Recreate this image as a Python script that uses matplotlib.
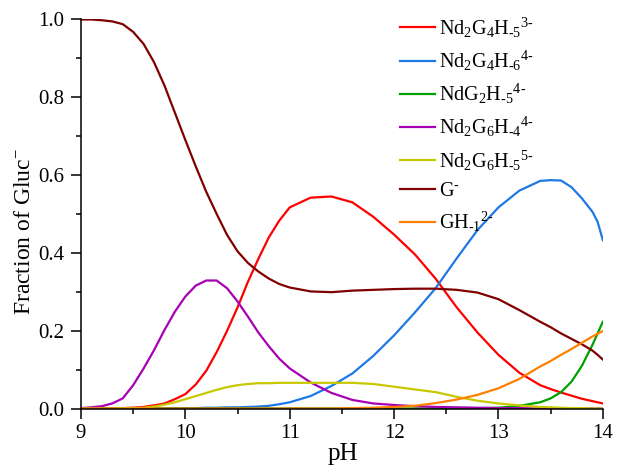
import matplotlib
matplotlib.use("Agg")
import matplotlib.pyplot as plt
from matplotlib.ticker import MultipleLocator, FormatStrFormatter

plt.rcParams["font.family"] = ["Liberation Serif", "DejaVu Serif"]
plt.rcParams["mathtext.fontset"] = "custom"
plt.rcParams["mathtext.rm"] = "Liberation Serif"
plt.rcParams["mathtext.it"] = "Liberation Serif:italic"

# pH grid (finer where the curves bend sharply)
ph = [9.0, 9.1, 9.2, 9.3, 9.4, 9.5, 9.6, 9.7, 9.8, 9.9, 10.0, 10.1, 10.2, 10.3, 10.4, 10.5, 10.6, 10.7,
      10.8, 10.9, 11.0, 11.2, 11.4, 11.6, 11.8, 12.0, 12.2, 12.4, 12.6, 12.8, 13.0, 13.2, 13.4,
      13.5, 13.6, 13.7, 13.8, 13.9, 13.95, 14.0]

nd2g4h5 = [0, 0, 0, 0.001, 0.001, 0.002, 0.004, 0.008, 0.013, 0.024, 0.037, 0.062, 0.097, 0.145, 0.2, 0.26,
           0.326, 0.385, 0.44, 0.483, 0.517, 0.542, 0.545, 0.53, 0.493, 0.447, 0.396, 0.333, 0.26, 0.195,
           0.138, 0.092, 0.06, 0.05, 0.041, 0.033, 0.025, 0.019, 0.016, 0.013]
nd2g4h6 = [0, 0, 0, 0, 0, 0, 0, 0, 0.001, 0.001, 0.001, 0.001, 0.002, 0.002, 0.003, 0.003, 0.004, 0.005,
           0.007, 0.011, 0.016, 0.032, 0.058, 0.09, 0.135, 0.188, 0.247, 0.31, 0.386, 0.459,
           0.517, 0.56, 0.585, 0.587, 0.586, 0.569, 0.54, 0.506, 0.48, 0.433]
ndg2h5 = [0, 0, 0, 0, 0, 0, 0, 0, 0, 0, 0, 0, 0, 0, 0, 0, 0, 0,
          0, 0, 0, 0, 0, 0, 0, 0, 0, 0, 0, 0.001,
          0.002, 0.007, 0.016, 0.026, 0.042, 0.069, 0.11, 0.163, 0.193, 0.223]
nd2g6h4 = [0.001, 0.003, 0.006, 0.013, 0.026, 0.06, 0.103, 0.15, 0.202, 0.249, 0.288, 0.316, 0.329, 0.329,
           0.309, 0.275, 0.236, 0.195, 0.16, 0.128, 0.103, 0.067, 0.04, 0.022, 0.013, 0.009, 0.006,
           0.004, 0.003, 0.002, 0.001, 0.001, 0, 0, 0, 0, 0, 0, 0, 0]
nd2g6h5 = [0, 0, 0, 0, 0.001, 0.001, 0.002, 0.005, 0.01, 0.016, 0.024, 0.032, 0.04, 0.048, 0.055, 0.06,
           0.063, 0.065, 0.065, 0.066, 0.066, 0.066, 0.066, 0.066, 0.063, 0.056, 0.049, 0.042, 0.03, 0.02,
           0.013, 0.008, 0.004, 0.003, 0.002, 0.001, 0.001, 0, 0, 0]
g_minus = [1.0, 1.0, 0.998, 0.995, 0.988, 0.968, 0.937, 0.89, 0.83, 0.76, 0.69, 0.622, 0.557, 0.5, 0.446,
           0.404, 0.374, 0.352, 0.334, 0.32, 0.311, 0.301, 0.299, 0.303, 0.305, 0.307, 0.308, 0.308,
           0.305, 0.298, 0.281, 0.253, 0.223, 0.209, 0.193, 0.179, 0.165, 0.149, 0.138, 0.126]
gh1 = [0, 0, 0, 0, 0, 0, 0, 0, 0, 0, 0, 0, 0, 0, 0, 0, 0, 0,
       0, 0, 0, 0, 0, 0.001, 0.002, 0.004, 0.007, 0.014, 0.023, 0.035,
       0.052, 0.076, 0.108, 0.122, 0.138, 0.153, 0.169, 0.185, 0.192, 0.199]

series = [
    (nd2g4h5, r"Nd$_2$G$_4$H$_{\text{-5}}$$^{\text{3-}}$", "#ff0000"),
    (nd2g4h6, r"Nd$_2$G$_4$H$_{\text{-6}}$$^{\text{4-}}$", "#1e78e6"),
    (ndg2h5, r"NdG$_2$H$_{\text{-5}}$$^{\text{4-}}$", "#00a000"),
    (nd2g6h4, r"Nd$_2$G$_6$H$_{\text{-4}}$$^{\text{4-}}$", "#a800b4"),
    (nd2g6h5, r"Nd$_2$G$_6$H$_{\text{-5}}$$^{\text{5-}}$", "#c8c800"),
    (g_minus, r"G$^{\text{-}}$", "#800000"),
    (gh1, r"GH$_{\text{-1}}$$^{\text{2-}}$", "#ff8000"),
]

fig = plt.figure(figsize=(6.17, 4.65), dpi=100)
ax = fig.add_axes([0.1313, 0.1215, 0.8457, 0.8366])

for ys, label, color in series:
    ax.plot(ph, ys, color=color, lw=1.6, label=label)

ax.set_xlim(9, 14)
ax.set_ylim(0, 1.0)
ax.xaxis.set_major_locator(MultipleLocator(1))
ax.xaxis.set_minor_locator(MultipleLocator(0.5))
ax.yaxis.set_major_locator(MultipleLocator(0.2))
ax.yaxis.set_minor_locator(MultipleLocator(0.1))
ax.yaxis.set_major_formatter(FormatStrFormatter("%.1f"))
ax.tick_params(which="major", direction="out", length=7.2, width=1.1, labelsize=15)
ax.tick_params(which="minor", direction="out", length=3.6, width=1.1)
ax.tick_params(axis="x", which="major", pad=4)
ax.tick_params(axis="y", which="major", pad=5)
for s in ["top", "right"]:
    ax.spines[s].set_visible(False)
for s in ["left", "bottom"]:
    ax.spines[s].set_linewidth(1.1)

ax.set_xlabel("pH", fontsize=18)
ax.set_ylabel(r"Fraction of Gluc$^{-}$", fontsize=17)
ax.xaxis.set_label_coords(0.502, -0.088)
ax.yaxis.set_label_coords(-0.088, 0.456)

ax.legend(loc="upper left", bbox_to_anchor=(0.596, 1.031), frameon=False, fontsize=14.5,
          handlelength=1.75, handletextpad=0.2, labelspacing=0.45, borderaxespad=0)

fig.savefig("out.png", dpi=100)
